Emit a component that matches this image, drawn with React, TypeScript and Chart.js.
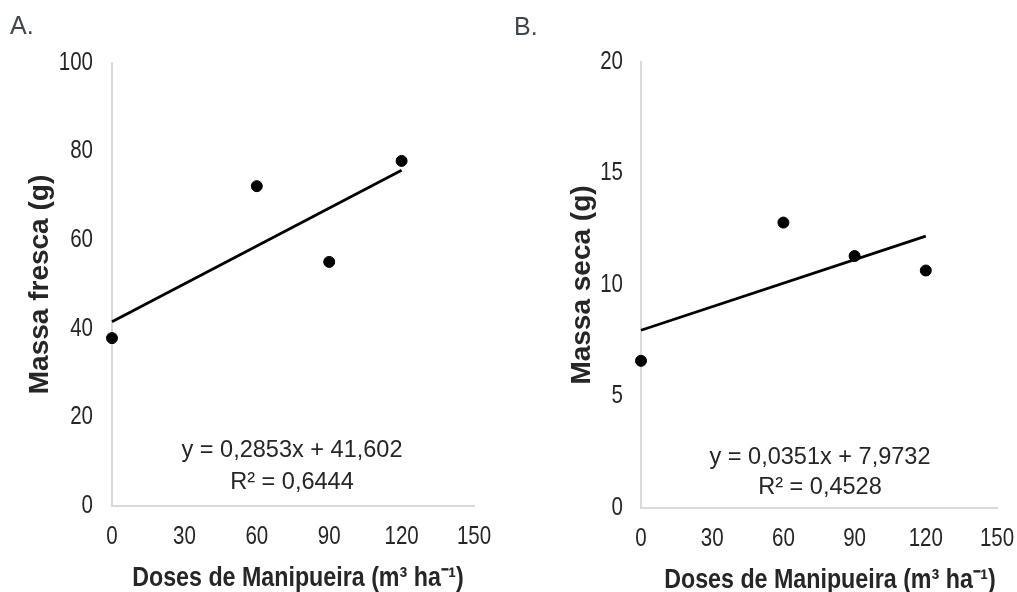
import React, { useEffect, useRef } from 'react';
import { Chart, registerables } from 'chart.js';

Chart.register(...registerables);

// ---- Data ----
const doses = [0, 60, 90, 120];
const massaFresca = [37.9, 72.2, 55.1, 77.9];
const massaSeca = [6.6, 12.8, 11.3, 10.65];
const trendDoses = [0, 120];
const trendFresca = [41.6, 75.8];
const trendSeca = [7.97, 12.19];
const xTickValues = [0, 30, 60, 90, 120, 150];
const yTicksFresca = [0, 20, 40, 60, 80, 100];
const yTicksSeca = [0, 5, 10, 15, 20];
const eqFresca = ['y = 0,2853x + 41,602', 'R² = 0,6444'];
const eqSeca = ['y = 0,0351x + 7,9732', 'R² = 0,4528'];
const xTitle = 'Doses de Manipueira (m³ ha⁻¹)';

const FONT = "'Liberation Sans', Arial, sans-serif";
const TEXT = '#262626';
const AXIS = '#d9d9d9';

type TxtOpts = {
  size: number;
  bold?: boolean;
  sx?: number;
  rotate?: number;
  align?: CanvasTextAlign;
};

function drawText(ctx: CanvasRenderingContext2D, text: string, x: number, y: number, o: TxtOpts) {
  ctx.save();
  ctx.translate(x, y);
  if (o.rotate) ctx.rotate(o.rotate);
  ctx.scale(o.sx ?? 1, 1);
  ctx.font = `${o.bold ? 'bold ' : ''}${o.size}px ${FONT}`;
  ctx.textAlign = o.align || 'center';
  ctx.textBaseline = 'middle';
  ctx.fillStyle = TEXT;
  ctx.fillText(text, 0, 0);
  ctx.restore();
}

const textPlugin = {
  id: 'panelText',
  afterDraw(chart: any, _args: any, opts: any) {
    const { ctx, chartArea, scales } = chart;
    const xs = scales.x;
    const ys = scales.y;
    const cx = (chartArea.left + chartArea.right) / 2;
    const cy = (chartArea.top + chartArea.bottom) / 2;
    // x tick labels
    xs.ticks.forEach((t: any) => {
      drawText(ctx, String(t.value), xs.getPixelForValue(t.value), chartArea.bottom + opts.xTickGap, { size: 25, sx: 0.82 });
    });
    // y tick labels
    ys.ticks.forEach((t: any) => {
      drawText(ctx, String(t.value), chartArea.left - opts.yTickGap, ys.getPixelForValue(t.value), { size: 25, sx: 0.82, align: 'right' });
    });
    // axis titles
    drawText(ctx, opts.xTitle, cx + opts.xTitleDx, chartArea.bottom + opts.xTitleGap, { size: 28, bold: true, sx: 0.83 });
    drawText(ctx, opts.yTitle, opts.yTitleX, cy, { size: 28, bold: true, rotate: -Math.PI / 2 });
    // regression equation
    opts.eq.forEach((t: string, i: number) => {
      drawText(ctx, t, cx + opts.eqDx, chartArea.bottom - opts.eqOffsets[i], { size: 24, sx: 0.98 });
    });
  },
};

type PanelProps = {
  left: number;
  width: number;
  values: number[];
  trend: number[];
  yTicks: number[];
  yTitle: string;
  eq: string[];
  pad: { top: number; right: number };
  yScaleWidth: number;
  yTickGap: number;
  yTitleX: number;
  xTitleDx: number;
  eqOffsets: number[];
  eqDx: number;
  xScaleHeight: number;
};

function Panel(p: PanelProps) {
  const ref = useRef<HTMLCanvasElement>(null);
  useEffect(() => {
    if (!ref.current) return;
    const chart = new Chart(ref.current, {
      type: 'scatter',
      data: {
        datasets: [
          {
            data: trendDoses.map((x, i) => ({ x, y: p.trend[i] })),
            showLine: true,
            borderColor: '#000',
            borderWidth: 2.75,
            pointRadius: 0,
            clip: false,
          } as any,
          {
            data: doses.map((x, i) => ({ x, y: p.values[i] })),
            backgroundColor: '#000',
            borderColor: '#000',
            borderWidth: 1,
            pointRadius: 5.5,
            clip: false,
          } as any,
        ],
      },
      options: {
        animation: false,
        responsive: false,
        maintainAspectRatio: false,
        layout: { padding: { left: 0, top: p.pad.top, right: p.pad.right, bottom: 0 } },
        plugins: {
          legend: { display: false },
          tooltip: { enabled: false },
          panelText: {
            eq: p.eq,
            eqOffsets: p.eqOffsets,
            eqDx: p.eqDx,
            xTitle,
            xTitleDx: p.xTitleDx,
            yTitle: p.yTitle,
            yTitleX: p.yTitleX,
            xTickGap: 31,
            yTickGap: p.yTickGap,
            xTitleGap: 72,
          },
        } as any,
        scales: {
          x: {
            type: 'linear',
            min: xTickValues[0],
            max: xTickValues[xTickValues.length - 1],
            afterBuildTicks: (s: any) => {
              s.ticks = xTickValues.map((v) => ({ value: v }));
            },
            afterFit: (s: any) => {
              s.height = p.xScaleHeight;
            },
            grid: { display: false, drawTicks: false },
            border: { display: true, color: AXIS, width: 2 },
            ticks: { display: false },
            title: { display: false },
          },
          y: {
            type: 'linear',
            min: p.yTicks[0],
            max: p.yTicks[p.yTicks.length - 1],
            afterBuildTicks: (s: any) => {
              s.ticks = p.yTicks.map((v) => ({ value: v }));
            },
            afterFit: (s: any) => {
              s.width = p.yScaleWidth;
            },
            grid: { display: false, drawTicks: false },
            border: { display: true, color: AXIS, width: 2 },
            ticks: { display: false },
            title: { display: false },
          },
        },
      },
      plugins: [textPlugin],
    });
    return () => chart.destroy();
  }, []);
  return (
    <canvas
      ref={ref}
      width={p.width}
      height={592}
      style={{ position: 'absolute', left: p.left, top: 0, width: p.width, height: 592 }}
    />
  );
}

const labelStyle: React.CSSProperties = {
  position: 'absolute',
  fontFamily: FONT,
  fontSize: 25,
  lineHeight: 1,
  color: '#40464d',
};

export default function App() {
  return (
    <div style={{ position: 'absolute', left: 0, top: 0, width: 1017, height: 592, background: '#fff', overflow: 'hidden' }}>
      <Panel
        left={0}
        width={510}
        values={massaFresca}
        trend={trendFresca}
        yTicks={yTicksFresca}
        yTitle="Massa fresca (g)"
        eq={eqFresca}
        pad={{ top: 63, right: 36 }}
        yScaleWidth={112}
        yTickGap={19}
        yTitleX={40}
        xTitleDx={5}
        eqOffsets={[56, 24]}
        eqDx={-1}
        xScaleHeight={86}
      />
      <Panel
        left={510}
        width={507}
        values={massaSeca}
        trend={trendSeca}
        yTicks={yTicksSeca}
        yTitle="Massa seca (g)"
        eq={eqSeca}
        pad={{ top: 62, right: 20 }}
        yScaleWidth={131}
        yTickGap={18}
        yTitleX={72}
        xTitleDx={11}
        eqOffsets={[51, 21]}
        eqDx={1}
        xScaleHeight={84}
      />
      <div style={{ ...labelStyle, left: 10, top: 13 }}>A.</div>
      <div style={{ ...labelStyle, left: 514, top: 14 }}>B.</div>
    </div>
  );
}
